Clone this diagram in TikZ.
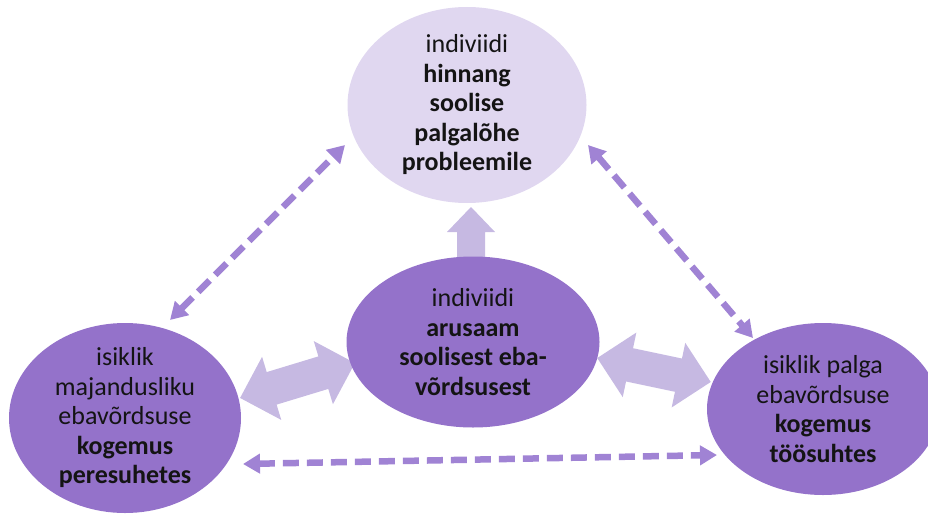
\documentclass[tikz,border=0pt]{standalone}
\usepackage{fontspec}
\setmainfont{Carlito}
\usetikzlibrary{shapes.geometric,arrows.meta}
\definecolor{dark}{HTML}{9472CA}
\definecolor{light}{HTML}{E0D7F0}
\definecolor{blk}{HTML}{C6B9E2}
\definecolor{dsh}{HTML}{A083D4}
\definecolor{ink}{HTML}{141414}
\begin{document}
\begin{tikzpicture}[x=1pt,y=-1pt,
  bubble/.style={ellipse, inner sep=0pt, draw=none},
  txt/.style={align=center, font=\fontsize{26}{29.5}\selectfont, text=ink, inner sep=0pt},
  dasharrow/.style={draw=dsh, line width=6.5pt, dash pattern=on 16pt off 8pt,
    {Triangle[length=17pt,width=19pt]}-{Triangle[length=17pt,width=19pt]}},
  blockfill/.style={fill=blk}]

\useasboundingbox (0,0) rectangle (928,516);

% block arrows
\fill[blockfill] (471,207) -- (495,232) -- (485,232) -- (485,280) -- (457,280) -- (457,232) -- (447,232) -- cycle;
\begin{scope}[shift={(297.5,380.5)}, rotate=16.9]
  \fill[blockfill] (-60,0) -- (-27,33) -- (-27,17) -- (27,17) -- (27,33) -- (60,0)
    -- (27,-33) -- (27,-17) -- (-27,-17) -- (-27,-33) -- cycle;
\end{scope}
\begin{scope}[shift={(654,370)}, rotate=-11.9]
  \fill[blockfill] (-58,0) -- (-25,33) -- (-25,17) -- (25,17) -- (25,33) -- (58,0)
    -- (25,-33) -- (25,-17) -- (-25,-17) -- (-25,-33) -- cycle;
\end{scope}

% ellipses
\node[bubble, fill=light, minimum width=239pt, minimum height=196pt] (top) at (467,105) {};
\node[bubble, fill=dark, minimum width=253pt, minimum height=171pt] (mid) at (473,342) {};
\node[bubble, fill=dark, minimum width=232pt, minimum height=190pt] (left) at (125,418) {};
\node[bubble, fill=dark, minimum width=232pt, minimum height=172pt] (right) at (823,409) {};

% texts
\node[txt] (top-t) at (top) {indiviidi\\\textbf{hinnang}\\\textbf{soolise}\\\textbf{palgalõhe}\\\textbf{probleemile}};
\node[txt] (mid-t) at (mid) {indiviidi\\\textbf{arusaam}\\\textbf{soolisest eba-}\\\textbf{võrdsusest}};
\node[txt] (left-t) at (left) {isiklik\\majandusliku\\ebavõrdsuse\\\textbf{kogemus}\\\textbf{peresuhetes}};
\node[txt] (right-t) at (right) {isiklik palga\\ebavõrdsuse\\\textbf{kogemus}\\\textbf{töösuhtes}};

% dashed arrows
\coordinate (d1a) at (170,320); \coordinate (d1b) at (345,145);
\coordinate (d2a) at (588,145); \coordinate (d2b) at (753,338);
\coordinate (d3a) at (243,464); \coordinate (d3b) at (717,455);
\draw[dasharrow] (d1a) -- (d1b);
\draw[dasharrow] (d2a) -- (d2b);
\draw[dasharrow] (d3a) -- (d3b);
\end{tikzpicture}
\end{document}
